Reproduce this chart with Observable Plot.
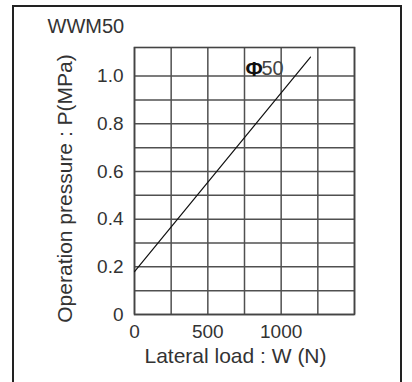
<!DOCTYPE html>
<html><head><meta charset="utf-8">
<script src="https://cdn.jsdelivr.net/npm/d3@7"></script>
<script src="https://cdn.jsdelivr.net/npm/@observablehq/plot@0.6"></script>
<style>
html,body{margin:0;padding:0;background:#fff;}
#wrap{position:relative;width:412px;height:382px;overflow:hidden;}
#wrap svg{position:absolute;left:0;top:0;}
#border{position:absolute;left:12.25px;top:4.75px;width:386px;height:420px;border:2.5px solid #222;pointer-events:none;z-index:2;}
</style></head><body>
<div id="wrap"><div id="border"></div></div>
<script>
const chartTitle = "WWM50";
const xLabel = "Lateral load : W (N)";
const yLabel = "Operation pressure : P(MPa)";
const seriesSymbol = "Φ";
const seriesSize = "50";
const loadN = [0, 1200];
const pressureMPa = [0.18, 1.08];
const xGridValues = [0, 250, 500, 750, 1000, 1250, 1500];
const yGridValues = [0, 0.1, 0.2, 0.3, 0.4, 0.5, 0.6, 0.7, 0.8, 0.9, 1.0];
const xTickValues = [0, 500, 1000];
const yTickValues = [0, 0.2, 0.4, 0.6, 0.8, 1.0];
const xDomain = [0, 1500];
const yDomain = [0, 1.12];

const lineData = loadN.map((w, i) => ({w, p: pressureMPa[i]}));
const endPoint = [lineData[lineData.length - 1]];

const chart = Plot.plot({
  width: 412,
  height: 382,
  marginLeft: 134,
  marginRight: 58,
  marginTop: 47,
  marginBottom: 68,
  style: {fontFamily: "'Liberation Sans', Arial, sans-serif", fontSize: "19px", color: "#333", background: "transparent"},
  x: {domain: xDomain},
  y: {domain: yDomain},
  marks: [
    Plot.gridX(xGridValues, {stroke: "#505050", strokeOpacity: 1, strokeWidth: 1.5}),
    Plot.gridY(yGridValues, {stroke: "#505050", strokeOpacity: 1, strokeWidth: 1.5}),
    Plot.frame({stroke: "#444", strokeWidth: 1.6}),
    Plot.axisX(xTickValues, {tickSize: 0, tickPadding: 10, label: null, fontSize: 19,
      tickFormat: d => String(d)}),
    Plot.axisY(yTickValues, {tickSize: 0, tickPadding: 11, label: null, fontSize: 19,
      tickFormat: d => d === 0 ? "0" : d.toFixed(1)}),
    Plot.line(lineData, {x: "w", y: "p", stroke: "#111", strokeWidth: 1.2}),
    Plot.text(endPoint, {x: "w", y: "p", text: () => seriesSymbol, dx: -65, dy: 12,
      textAnchor: "start", lineAnchor: "middle", fontWeight: "bold", fontSize: 21, fill: "#111"}),
    Plot.text(endPoint, {x: "w", y: "p", text: () => seriesSize, dx: -49, dy: 12,
      textAnchor: "start", lineAnchor: "middle", fontSize: 20, fill: "#444"}),
    Plot.text([xLabel], {text: d => d, frameAnchor: "bottom", dx: -9, dy: 42,
      textAnchor: "middle", lineAnchor: "middle", fontSize: 21, fill: "#333"}),
    Plot.text([yLabel], {text: d => d, frameAnchor: "left", rotate: -90, dx: -69, dy: 7.5,
      textAnchor: "middle", lineAnchor: "middle", fontSize: 21, fill: "#333"}),
    Plot.text([chartTitle], {text: d => d, frameAnchor: "top-left", textAnchor: "start",
      dx: -87, dy: -21, lineAnchor: "middle", fontSize: 20, fill: "#333"})
  ]
});
document.getElementById("wrap").appendChild(chart);
</script>
</body></html>
